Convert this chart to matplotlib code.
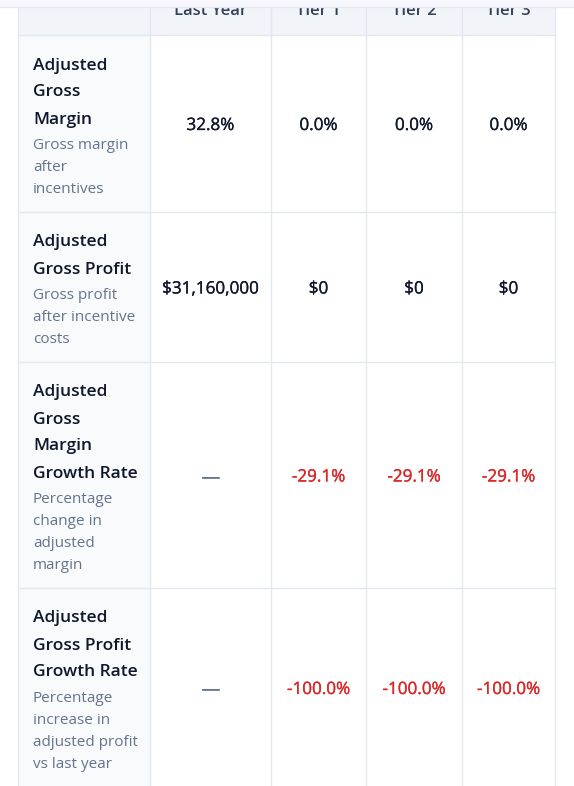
import matplotlib.pyplot as plt
import matplotlib.patheffects as pe
from matplotlib.patches import Rectangle

plt.rcParams["font.family"] = ["Open Sans", "DejaVu Sans"]

# table content
columns = ["Last Year", "Tier 1", "Tier 2", "Tier 3"]
row_titles = [
    ["Adjusted", "Gross", "Margin"],
    ["Adjusted", "Gross Profit"],
    ["Adjusted", "Gross", "Margin", "Growth Rate"],
    ["Adjusted", "Gross Profit", "Growth Rate"],
]
row_notes = [
    ["Gross margin", "after", "incentives"],
    ["Gross profit", "after incentive", "costs"],
    ["Percentage", "change in", "adjusted", "margin"],
    ["Percentage", "increase in", "adjusted profit", "vs last year"],
]
values = [
    ["32.8%", "0.0%", "0.0%", "0.0%"],
    ["$31,160,000", "$0", "$0", "$0"],
    ["\u2014", "-29.1%", "-29.1%", "-29.1%"],
    ["\u2014", "-100.0%", "-100.0%", "-100.0%"],
]

# layout in pixels
W, H = 574, 786
col_edges = [18, 150, 271, 366, 462, 555]
header_top, header_bottom = 7, 35
border = "#e2e8f0"
dark = "#0f172a"
muted = "#64748b"
red = "#dc2626"

fig = plt.figure(figsize=(W / 100, H / 100), dpi=100)
ax = fig.add_axes([0, 0, 1, 1])
ax.set_xlim(0, W)
ax.set_ylim(H, 0)
ax.axis("off")

# header row
ax.add_patch(Rectangle((col_edges[0], 0), col_edges[-1] - col_edges[0], header_bottom,
                       facecolor="#f1f5f9", edgecolor="none", zorder=0))
for i, name in enumerate(columns):
    cx = (col_edges[i + 1] + col_edges[i + 2]) / 2
    ax.text(cx, 15, name, ha="center", va="baseline", fontsize=12,
            fontweight="semibold", color="#334155", zorder=2)

# body rows
top = header_bottom
for r in range(len(row_titles)):
    y = top + 28
    ys_title = []
    for _ in row_titles[r]:
        ys_title.append(y)
        y += 27
    y = ys_title[-1] + 26
    ys_note = []
    for _ in row_notes[r]:
        ys_note.append(y)
        y += 22
    bottom = ys_note[-1] + 25

    ax.add_patch(Rectangle((col_edges[0], top), col_edges[1] - col_edges[0], bottom - top,
                           facecolor="#f8fafc", edgecolor="none", zorder=0))
    for line, yy in zip(row_titles[r], ys_title):
        ax.text(33, yy + 2.5, line, ha="left", va="center", fontsize=12.5,
                fontweight="semibold", color=dark)
    for line, yy in zip(row_notes[r], ys_note):
        ax.text(33, yy + 2.5, line, ha="left", va="center", fontsize=11, color=muted)

    cy = (top + bottom) / 2 + 2.5
    for c, v in enumerate(values[r]):
        cx = (col_edges[c + 1] + col_edges[c + 2]) / 2
        if v == "\u2014":
            ax.text(cx, cy, v, ha="center", va="center", fontsize=14, color=muted,
                    path_effects=[pe.withStroke(linewidth=0.5, foreground=muted)])
            continue
        color = red if v.startswith("-") else dark
        ax.text(cx, cy, v, ha="center", va="center", fontsize=12.3, color=color,
                path_effects=[pe.withStroke(linewidth=0.2, foreground=color)])

    ax.plot([col_edges[0], col_edges[-1]], [bottom, bottom], color=border, lw=1, zorder=1)
    top = bottom

# grid lines
ax.plot([col_edges[0], col_edges[-1]], [header_bottom, header_bottom], color=border, lw=1, zorder=1)
for x in col_edges:
    ax.plot([x, x], [0, H], color=border, lw=1, zorder=1)

# sticky bar covering the top of the header
ax.add_patch(Rectangle((0, 0), W, header_top, facecolor="#f8f7fd", edgecolor="none", zorder=3))
ax.plot([0, W], [header_top, header_top], color="#ebe8f5", lw=1, zorder=4)

fig.savefig("out.png", dpi=100)
